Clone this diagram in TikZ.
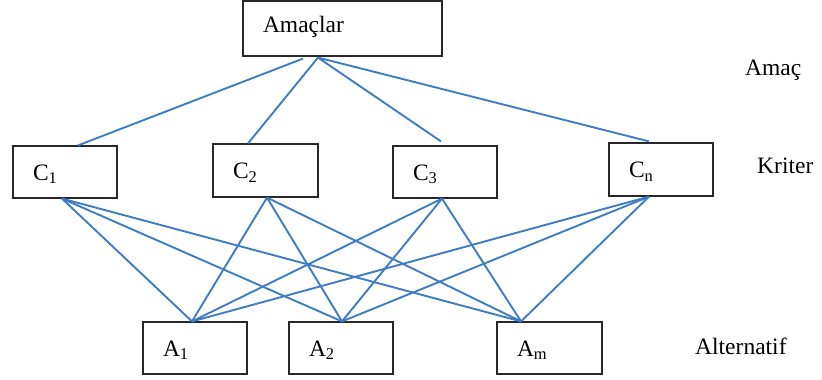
\documentclass[tikz,border=0pt]{standalone}
\usepackage{fontspec}
\setmainfont{Liberation Serif}
\usepackage{tikz}

\definecolor{linkblue}{RGB}{62,124,196}
\definecolor{boxgray}{RGB}{40,40,40}

\tikzset{
  box/.style = {draw=boxgray, line width=1.2pt, align=left, inner xsep=20pt, inner ysep=0pt,
                text height=16pt, text depth=0pt, minimum height=52pt},
  link/.style = {draw=linkblue, line width=1.9pt},
  level/.style = {anchor=base west, inner sep=0pt}
}

\begin{document}
\begin{tikzpicture}[x=1pt, y=-1pt, font=\fontsize{23.5}{28}\selectfont]
\useasboundingbox (0,0) rectangle (822,380);

\node (amac) at (342.5,28.5) [box, text width=159pt, minimum height=55pt, text depth=9pt] {Amaçlar};
\node (c1) at (65,172) [box, text width=64pt] {C\textsubscript{1}};
\node (c2) at (265.5,170.5) [box, text width=65pt, minimum height=53pt] {C\textsubscript{2}};
\node (c3) at (445,172) [box, text width=64pt] {C\textsubscript{3}};
\node (cn) at (661,169.5) [box, text width=64pt, minimum height=53pt] {C\textsubscript{n}};
\node (a1) at (195,348) [box, text width=64pt] {A\textsubscript{1}};
\node (a2) at (341,348) [box, text width=64pt] {A\textsubscript{2}};
\node (am) at (549.5,348) [box, text width=65pt] {A\textsubscript{m}};

\node (amaclabel) at (745,75) [level] {Amaç};
\node (kriterlabel) at (757,173) [level] {Kriter};
\node (altlabel) at (695,354) [level] {Alternatif};

% where the lines meet the boxes
\coordinate (top1) at ([xshift=-39.5pt, yshift=-2pt]amac.south);
\coordinate (top) at ([xshift=-24.5pt, yshift=-1pt]amac.south);
\coordinate (c1t) at ([xshift=13pt]c1.north);
\coordinate (c2t) at ([xshift=-17.5pt]c2.north);
\coordinate (c3t) at ([xshift=-4pt, yshift=4pt]c3.north);
\coordinate (cnt) at ([xshift=-12pt, yshift=1pt]cn.north);
\coordinate (c1b) at ([xshift=-3pt]c1.south);
\coordinate (c2b) at ([xshift=1.5pt]c2.south);
\coordinate (c3b) at ([xshift=-3pt]c3.south);
\coordinate (cnb) at ([xshift=-12pt]cn.south);
\coordinate (a1t) at ([xshift=-3pt]a1.north);
\coordinate (a2t) at ([xshift=1pt]a2.north);
\coordinate (amt) at ([xshift=-28.5pt]am.north);

\path [link] (top1) edge (c1t);
\path [link] (top) edge (c2t);
\path [link] (top) edge (c3t);
\path [link] (top) edge (cnt);

\path [link] (c1b) edge (a1t);
\path [link] (c1b) edge (a2t);
\path [link] (c1b) edge (amt);
\path [link] (c2b) edge (a1t);
\path [link] (c2b) edge (a2t);
\path [link] (c2b) edge (amt);
\path [link] (c3b) edge (a1t);
\path [link] (c3b) edge (a2t);
\path [link] (c3b) edge (amt);
\path [link] (cnb) edge (a1t);
\path [link] (cnb) edge (a2t);
\path [link] (cnb) edge (amt);

\end{tikzpicture}
\end{document}
